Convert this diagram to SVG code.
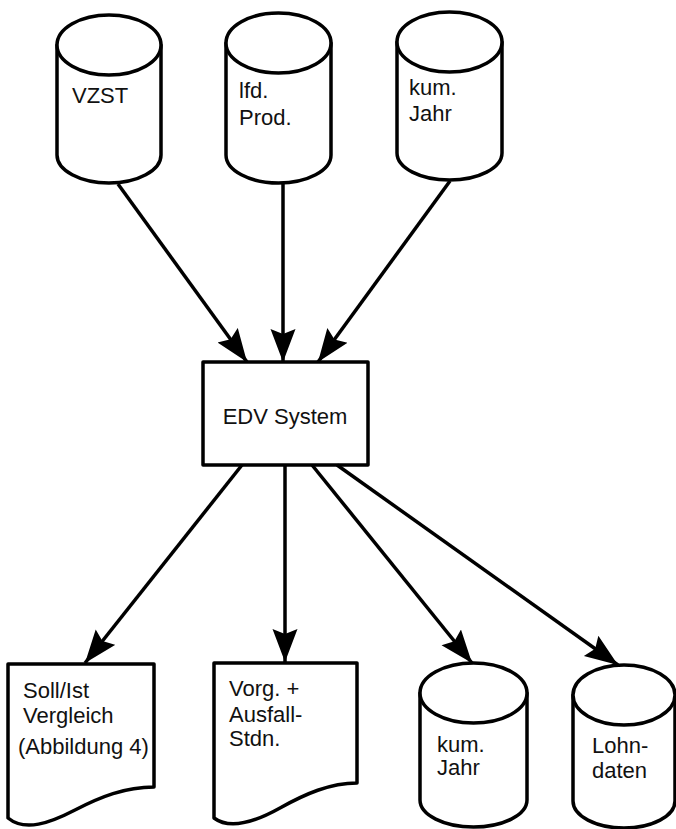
<svg xmlns="http://www.w3.org/2000/svg" width="676" height="829" viewBox="0 0 676 829">
<defs>
<marker id="ah" markerUnits="userSpaceOnUse" markerWidth="38" markerHeight="28" refX="33" refY="13" orient="auto">
<path d="M0,0.5 L33,13 L0,25.5 L5,13 Z" fill="#000"/>
</marker>
</defs>
<style>
.sh{fill:#fff;stroke:#000;stroke-width:3.5;stroke-linejoin:round}
.t{font-family:"Liberation Sans",Arial,sans-serif;font-size:22px;fill:#111}
.ln{stroke:#000;stroke-width:3.5;fill:none;marker-end:url(#ah)}
</style>
<rect width="676" height="829" fill="#fff"/>
<g id="vzst">
<path class="sh" d="M57,45 V155 A52,28 0 0 0 161,155 V45 Z"/>
<ellipse class="sh" cx="109" cy="45" rx="52" ry="30"/>
<text class="t" x="72" y="103">VZST</text>
</g>
<g id="lfd">
<path class="sh" d="M226,43 V155 A52.5,28 0 0 0 331,155 V43 Z"/>
<ellipse class="sh" cx="278.5" cy="43" rx="52.5" ry="30"/>
<text class="t" x="239" y="98">lfd.</text>
<text class="t" x="239" y="125">Prod.</text>
</g>
<g id="kum1">
<path class="sh" d="M397,42 V153 A52.5,27 0 0 0 502,153 V42 Z"/>
<ellipse class="sh" cx="449.5" cy="42" rx="52.5" ry="30"/>
<text class="t" x="409" y="95">kum.</text>
<text class="t" x="409" y="121">Jahr</text>
</g>
<g id="edv">
<rect class="sh" x="203" y="362" width="165" height="103"/>
<text class="t" x="285" y="424" text-anchor="middle" font-size="25">EDV System</text>
</g>
<g id="soll">
<path class="sh" d="M8,664 H154 V787 C125,787 100,797 75,810 C50,823 25,832 8,818 Z"/>
<text class="t" x="23" y="698" font-size="23">Soll/Ist</text>
<text class="t" x="23" y="723" font-size="23">Vergleich</text>
<text class="t" x="18" y="754" font-size="20">(Abbildung 4)</text>
</g>
<g id="vorg">
<path class="sh" d="M214,663 H357 V783 C330,783 305,794 280,808 C255,822 230,830 214,818 Z"/>
<text class="t" x="229" y="696" font-size="23">Vorg. +</text>
<text class="t" x="229" y="722" font-size="23">Ausfall-</text>
<text class="t" x="229" y="746" font-size="23">Stdn.</text>
</g>
<g id="kum2">
<path class="sh" d="M420,693 V800 A53.5,27 0 0 0 527,800 V693 Z"/>
<ellipse class="sh" cx="473.5" cy="693" rx="53.5" ry="30"/>
<text class="t" x="437" y="752">kum.</text>
<text class="t" x="437" y="775">Jahr</text>
</g>
<g id="lohn">
<path class="sh" d="M573,695 V801 A51,27 0 0 0 675,801 V695 Z"/>
<ellipse class="sh" cx="624" cy="695" rx="51" ry="30"/>
<text class="t" x="592" y="753">Lohn-</text>
<text class="t" x="592" y="778">daten</text>
</g>
<g id="connectors">
<line class="ln" x1="118" y1="184" x2="247" y2="362"/>
<line class="ln" x1="283" y1="184" x2="283" y2="362"/>
<line class="ln" x1="450" y1="181" x2="318" y2="362"/>
<line class="ln" x1="242" y1="465" x2="85" y2="663"/>
<line class="ln" x1="285" y1="465" x2="285" y2="662"/>
<line class="ln" x1="312" y1="465" x2="472" y2="663"/>
<line class="ln" x1="337" y1="465" x2="618" y2="665"/>
</g>
</svg>
